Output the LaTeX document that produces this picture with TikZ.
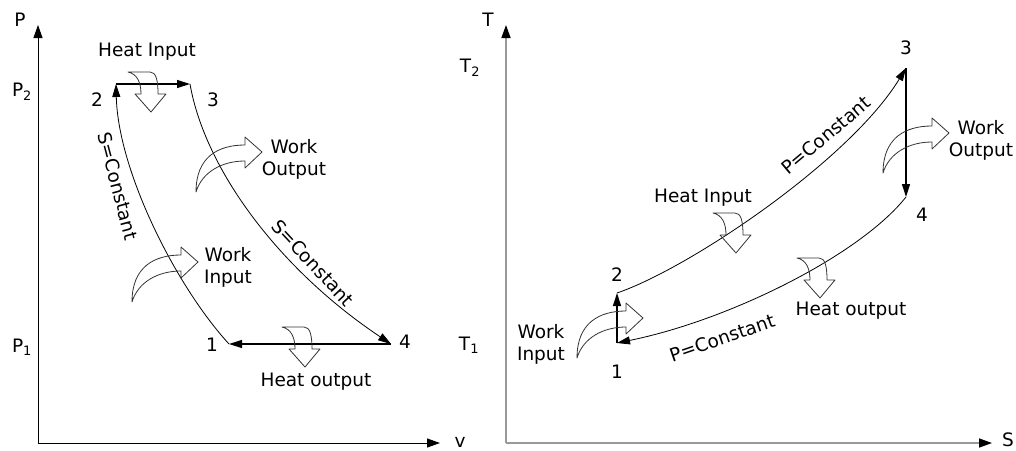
\documentclass[tikz,border=0pt]{standalone}
\usepackage{fontspec}
\setmainfont{DejaVu Sans}
\usetikzlibrary{arrows.meta}

\begin{document}
\begin{tikzpicture}[x=1pt, y=-1pt,
  every node/.style={font=\fontsize{18.5}{22}\selectfont, inner sep=0pt},
  axis/.style={line width=1pt, -{Triangle[length=13pt,width=9pt]}},
  grayaxis/.style={draw=black!40, line width=1.4pt, -{Triangle[length=13pt,width=9pt,color=black]}},
  flow/.style={line width=1.3pt, -{Triangle[length=13pt,width=8pt]}},
  curve/.style={line width=0.8pt, -{Triangle[length=13pt,width=8pt]}},
  hollow/.style={draw=black!80, line width=0.8pt, line join=round},
  workarrow/.pic={
    \draw[hollow] (0,0) .. controls (0,-35) and (22,-47) .. (49,-47) -- (49,-55)
      -- (66,-40) -- (49,-24) -- (49,-31) .. controls (26,-31) and (6,-20) .. cycle;
  },
  heatarrow/.pic={
    \draw[hollow] (0,0) -- (22,0) .. controls (28,0) and (30,8) .. (30,22) -- (38,22)
      -- (23,40) -- (7,22) -- (13,22) .. controls (13,10) and (9,2) .. cycle;
  }]
  \useasboundingbox (0,0) rectangle (1016,450);

  % P-v diagram
  \coordinate (O1) at (38,443);
  \coordinate (Ptop) at (38,25);
  \coordinate (vend) at (440,443);
  \draw[axis] (O1) -- (Ptop);
  \draw[axis] (O1) -- (vend);
  \node (Plab) at (20,20) {P};
  \node (vlab) at (460,442) {v};
  \node (P2lab) at (22,92) {P\textsubscript{2}};
  \node (P1lab) at (22,347) {P\textsubscript{1}};

  \coordinate (A1) at (229,344);
  \coordinate (A2) at (116,84);
  \coordinate (A3) at (190,84);
  \coordinate (A4) at (391,344);
  \draw[flow] (A2) -- (A3);
  \draw[curve] (A3) .. controls (205,170) and (280,270) .. (A4);
  \draw[flow] (A4) -- (A1);
  \draw[curve] (A1) .. controls (175,285) and (118,170) .. (A2);
  \node (a1) at (212,345) {1};
  \node (a2) at (97,100) {2};
  \node (a3) at (213,100) {3};
  \node (a4) at (405,342) {4};

  \node[rotate=-75] (sleft) at (118,186) {S=Constant};
  \node[rotate=-47] (sright) at (313,263) {S=Constant};
  \node (heatinA) at (147,52) {Heat Input};
  \node (heatoutA) at (316,382) {Heat output};
  \node[align=center] (workoutA) at (294,159) {Work\\Output};
  \node[align=center] (workinA) at (228,267) {Work\\Input};
  \pic at (128,72) {heatarrow};
  \pic at (282,327) {heatarrow};
  \pic at (196,192) {workarrow};
  \pic at (132,302) {workarrow};

  % T-S diagram
  \coordinate (O2) at (506,443);
  \coordinate (Ttop) at (506,25);
  \coordinate (Send) at (992,443);
  \draw[grayaxis] (O2) -- (Ttop);
  \draw[grayaxis] (O2) -- (Send);
  \node (Tlab) at (488,20) {T};
  \node (Slab) at (1008,440) {S};
  \node (T2lab) at (470,68) {T\textsubscript{2}};
  \node (T1lab) at (469,345) {T\textsubscript{1}};

  \coordinate (B1) at (617,343);
  \coordinate (B2) at (617,293);
  \coordinate (B3) at (906,68);
  \coordinate (B4) at (906,197);
  \draw[flow] (B1) -- (B2);
  \draw[curve] (B2) .. controls (690,268) and (850,160) .. (B3);
  \draw[flow] (B3) -- (B4);
  \draw[curve] (B4) .. controls (860,255) and (730,320) .. (B1);
  \node (b1) at (617,372) {1};
  \node (b2) at (617,275) {2};
  \node (b3) at (906,48) {3};
  \node (b4) at (922,215) {4};

  \node[rotate=40] (pupper) at (826,135) {P=Constant};
  \node[rotate=19] (plower) at (722,338) {P=Constant};
  \node (heatinB) at (703,198) {Heat Input};
  \node (heatoutB) at (851,311) {Heat output};
  \node[align=center] (workoutB) at (981,140) {Work\\Output};
  \node[align=center] (workinB) at (541,344) {Work\\Input};
  \pic at (713,213) {heatarrow};
  \pic at (797,258) {heatarrow};
  \pic at (883,173) {workarrow};
  \pic at (577,358) {workarrow};
\end{tikzpicture}
\end{document}
